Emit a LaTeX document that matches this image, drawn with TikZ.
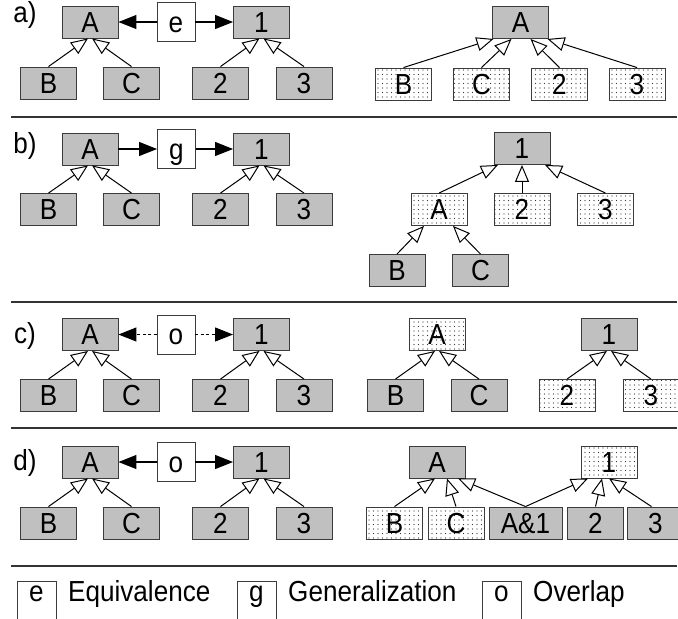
\documentclass[tikz,border=0pt]{standalone}
\usepackage{fontspec}
\setmainfont{Liberation Sans}[FakeStretch=0.9]
\usetikzlibrary{arrows.meta,patterns.meta}
\definecolor{boxgray}{HTML}{C0C0C0}
\definecolor{edgec}{HTML}{3C3C3C}
\definecolor{rulec}{HTML}{333333}
\definecolor{dotc}{HTML}{333333}
\tikzdeclarepattern{name=sdots, type=uncolored,
  bottom left={(-1pt,-1pt)}, top right={(3.5pt,3.5pt)},
  tile size={(4.5pt,4.5pt)},
  code={\fill (0pt,0pt) circle (0.65pt);}}
\begin{document}
\begin{tikzpicture}[x=1pt,y=-1pt,
  font=\fontsize{29}{30}\selectfont,
  box/.style={draw=edgec, line width=0.9pt, minimum width=56pt, minimum height=32pt,
    inner sep=0pt, text height=20.8pt, text depth=0pt},
  solidbox/.style={box, fill=boxgray},
  dotbox/.style={box, fill=white, postaction={pattern=sdots, pattern color=dotc}},
  relbox/.style={box, fill=white, minimum width=38pt, minimum height=39pt},
  legbox/.style={draw=edgec, line width=0.9pt, fill=white, minimum width=39pt,
    inner sep=0pt, text height=20pt, text depth=19pt},
  gen/.style={line width=1pt, -{Triangle[length=17pt,width=14pt,fill=white]}},
  rel/.style={line width=1.2pt, -{Triangle[length=18pt,width=14pt]}},
  reldash/.style={rel, dash pattern=on 3pt off 2.5pt},
  lab/.style={inner sep=0pt},
  sep/.style={draw=rulec, line width=1.3pt}]
\useasboundingbox (0,0) rectangle (678,619);

% separators
\draw[sep] (11,117) -- (677,117);
\draw[sep] (11,302) -- (677,302);
\draw[sep] (11,428) -- (677,428);
\draw[sep] (11,566) -- (677,566);

% ---------------- panel a ----------------
\node[lab] (la) at (25,15) {a)};
\node[solidbox] (aA) at (90,22) {A};
\node[relbox] (ae) at (176,22) {e};
\node[solidbox] (a1) at (261.5,22) {1};
\node[solidbox] (aB) at (48.5,83) {B};
\node[solidbox] (aC) at (131.5,83) {C};
\node[solidbox] (a2) at (220.5,83) {2};
\node[solidbox] (a3) at (304,83) {3};
\draw[rel] (ae) -- (aA);
\draw[rel] (ae) -- (a1);
\draw[gen] (aB.north) -- ([xshift=-2pt]aA.south);
\draw[gen] (aC.north) -- ([xshift=2pt]aA.south);
\draw[gen] (a2.north) -- ([xshift=-2pt]a1.south);
\draw[gen] (a3.north) -- ([xshift=2pt]a1.south);

\node[solidbox] (arA) at (520.5,22.5) {A};
\node[dotbox] (arB) at (403.5,84) {B};
\node[dotbox] (arC) at (481.5,84) {C};
\node[dotbox] (ar2) at (559.5,84) {2};
\node[dotbox] (ar3) at (637,84) {3};
\draw[gen] (arB.north) -- ([xshift=-27pt]arA.south);
\draw[gen] (arC.north) -- ([xshift=-9pt]arA.south);
\draw[gen] (ar2.north) -- ([xshift=10pt]arA.south);
\draw[gen] (ar3.north) -- ([xshift=27pt]arA.south);

% ---------------- panel b ----------------
\node[lab] (lb) at (25,146) {b)};
\node[solidbox] (bA) at (90,149) {A};
\node[relbox] (bg) at (176.5,149) {g};
\node[solidbox] (b1) at (261.5,149) {1};
\node[solidbox] (bB) at (48.5,209.5) {B};
\node[solidbox] (bC) at (131.5,209.5) {C};
\node[solidbox] (b2) at (220.5,209.5) {2};
\node[solidbox] (b3) at (304,209.5) {3};
\draw[rel] (bA) -- (bg);
\draw[rel] (bg) -- (b1);
\draw[gen] (bB.north) -- ([xshift=-2pt]bA.south);
\draw[gen] (bC.north) -- ([xshift=2pt]bA.south);
\draw[gen] (b2.north) -- ([xshift=-2pt]b1.south);
\draw[gen] (b3.north) -- ([xshift=2pt]b1.south);

\node[solidbox] (br1) at (522,148.5) {1};
\node[dotbox] (brA) at (439,209.5) {A};
\node[dotbox] (br2) at (522,209.5) {2};
\node[dotbox] (br3) at (605.5,209.5) {3};
\node[solidbox] (brB) at (397,270.5) {B};
\node[solidbox] (brC) at (480.5,270.5) {C};
\draw[gen] (brA.north) -- ([xshift=-24pt]br1.south);
\draw[gen] (br2.north) -- (br1.south);
\draw[gen] (br3.north) -- ([xshift=23pt]br1.south);
\draw[gen] (brB.north) -- ([xshift=-15pt]brA.south);
\draw[gen] (brC.north) -- ([xshift=14pt]brA.south);

% ---------------- panel c ----------------
\node[lab] (lc) at (25,336) {c)};
\node[solidbox] (cA) at (90,334.5) {A};
\node[relbox] (co) at (176,334.5) {o};
\node[solidbox] (c1) at (261.5,334.5) {1};
\node[solidbox] (cB) at (48.5,395.5) {B};
\node[solidbox] (cC) at (131.5,395.5) {C};
\node[solidbox] (c2) at (220.5,395.5) {2};
\node[solidbox] (c3) at (304,395.5) {3};
\draw[reldash] (co) -- (cA);
\draw[reldash] (co) -- (c1);
\draw[gen] (cB.north) -- ([xshift=-2pt]cA.south);
\draw[gen] (cC.north) -- ([xshift=2pt]cA.south);
\draw[gen] (c2.north) -- ([xshift=-2pt]c1.south);
\draw[gen] (c3.north) -- ([xshift=2pt]c1.south);

\node[dotbox] (crA) at (437,334.5) {A};
\node[solidbox] (crB) at (395.5,395.5) {B};
\node[solidbox] (crC) at (479,395.5) {C};
\node[solidbox] (cr1) at (609,334.5) {1};
\node[dotbox] (cr2) at (567,395.5) {2};
\node[dotbox] (cr3) at (651,395.5) {3};
\draw[gen] (crB.north) -- ([xshift=-2pt]crA.south);
\draw[gen] (crC.north) -- ([xshift=2pt]crA.south);
\draw[gen] (cr2.north) -- ([xshift=-2pt]cr1.south);
\draw[gen] (cr3.north) -- ([xshift=2pt]cr1.south);

% ---------------- panel d ----------------
\node[lab] (ld) at (25,463) {d)};
\node[solidbox] (dA) at (90,462) {A};
\node[relbox] (do) at (176,462) {o};
\node[solidbox] (d1) at (261.5,462) {1};
\node[solidbox] (dB) at (48.5,523) {B};
\node[solidbox] (dC) at (131.5,523) {C};
\node[solidbox] (d2) at (220.5,523) {2};
\node[solidbox] (d3) at (304,523) {3};
\draw[rel] (do) -- (dA);
\draw[rel] (do) -- (d1);
\draw[gen] (dB.north) -- ([xshift=-2pt]dA.south);
\draw[gen] (dC.north) -- ([xshift=2pt]dA.south);
\draw[gen] (d2.north) -- ([xshift=-2pt]d1.south);
\draw[gen] (d3.north) -- ([xshift=2pt]d1.south);

\node[solidbox] (drA) at (437,462) {A};
\node[dotbox] (dr1) at (609,462) {1};
\node[dotbox] (drB) at (394.5,523) {B};
\node[dotbox] (drC) at (456,523) {C};
\node[solidbox, minimum width=73pt] (drAB) at (525.5,523) {A\&1};
\node[solidbox] (dr2) at (595.5,523) {2};
\node[solidbox] (dr3) at (655.5,523) {3};
\draw[gen] (drB.north) -- ([xshift=-2pt]drA.south);
\draw[gen] (drC.north) -- ([xshift=10pt]drA.south);
\draw[gen] (drAB.north) -- ([xshift=21pt]drA.south);
\draw[gen] (drAB.north) -- ([xshift=-21pt]dr1.south);
\draw[gen] (dr2.north) -- ([xshift=-7pt]dr1.south);
\draw[gen] ([xshift=-4pt]dr3.north) -- ([xshift=0pt]dr1.south);

% ---------------- legend ----------------
\node[legbox, anchor=base] (le) at (36.5,601) {e};
\node[lab, anchor=base west] (lte) at (68,601) {Equivalence};
\node[legbox, anchor=base] (lg) at (256.5,601) {g};
\node[lab, anchor=base west] (ltg) at (288,601) {Generalization};
\node[legbox, anchor=base] (lo) at (501.5,601) {o};
\node[lab, anchor=base west] (lto) at (533,601) {Overlap};
\end{tikzpicture}
\end{document}
